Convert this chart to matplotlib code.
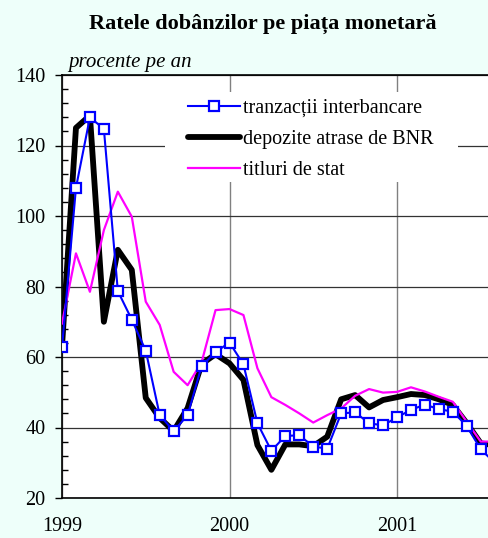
import numpy as np
import matplotlib.pyplot as plt
from matplotlib.patches import Rectangle
from matplotlib.ticker import MultipleLocator

# monthly series, Jan 1999 onwards
start_year = 1999
interbancare = [62.7, 108, 128, 124.7, 78.7, 70.6, 61.8, 43.5, 39, 43.5, 57.4, 61.4,
                64.1, 57.9, 41.2, 33.4, 37.6, 37.8, 34.6, 34.0, 44.0, 44.3, 41.2, 40.6,
                42.9, 45.0, 46.5, 45.2, 44.5, 40.4, 33.8, 30.0]
depozite_bnr = [63, 125, 128.5, 70, 90.4, 84.7, 48.4, 42.7, 39, 45.5, 58, 60.8,
                58.2, 53.5, 35, 28, 35.2, 35.2, 34.7, 37.4, 48, 49.2, 45.7, 47.8,
                48.6, 49.5, 49.2, 48, 46.4, 41.2, 35.5, 35]
titluri_stat = [69.5, 89.4, 78.5, 96, 106.9, 99.8, 75.7, 69.1, 55.8, 52, 58.5, 73.3,
                73.6, 71.9, 56.8, 48.6, 46.4, 44, 41.4, 43.5, 45.4, 49, 50.9, 49.9,
                50.1, 51.4, 50.2, 48.7, 47.3, 41.6, 36, 36]
labels = ['tranzacții interbancare', 'depozite atrase de BNR', 'titluri de stat']
year_ticks = [1999, 2000, 2001]

x = start_year + np.arange(len(interbancare)) / 12.0

plt.rcParams['font.family'] = ['Liberation Serif', 'DejaVu Serif']

W, H = 488, 538
fig = plt.figure(figsize=(W / 100, H / 100), dpi=100)
fig.patch.set_facecolor('#eefffa')
ax = fig.add_axes([62 / W, 1 - 498 / H, 462 / W, 423 / H])
ax.set_facecolor('white')
ax.set_axisbelow(True)

h_black, = ax.plot(x, depozite_bnr, color='black', lw=4.2, zorder=2,
                   solid_joinstyle='round', solid_capstyle='round')
h_mag, = ax.plot(x, titluri_stat, color='#ff00ff', lw=1.6, zorder=3)
h_blue, = ax.plot(x, interbancare, color='#0000ff', lw=1.5, marker='s', ms=6.5,
                  mfc='white', mec='#0000ff', mew=1.6, zorder=4)

ax.set_xlim(1999, 1999 + 462 / 167.5)
ax.set_ylim(20, 140)
ax.set_xticks(year_ticks)
ax.set_xticklabels([str(y) for y in year_ticks], fontsize=14.5)
ax.tick_params(axis='x', length=0, pad=14)
ax.set_yticks(np.arange(20, 141, 20))
ax.yaxis.set_minor_locator(MultipleLocator(4))
ax.tick_params(axis='y', which='major', direction='out', length=5, width=1,
               labelsize=14.5, pad=7)
ax.tick_params(axis='y', which='minor', direction='in', length=4, width=1)
ax.grid(axis='y', which='major', color='#333333', lw=0.9)
ax.grid(axis='x', which='major', color='#808080', lw=1.0)
for s in ['left', 'bottom', 'top']:
    ax.spines[s].set_linewidth(1.2)
ax.spines['right'].set_visible(False)

# white area behind the legend
ax.add_patch(Rectangle((165 / W, 1 - 182 / H), 293 / W, 90 / H,
                       transform=fig.transFigure, facecolor='white',
                       edgecolor='none', zorder=1))
ax.legend([h_blue, h_black, h_mag], labels, loc='upper left',
          bbox_to_anchor=(188 / W, 1 - 99 / H), bbox_transform=fig.transFigure,
          frameon=False, fontsize=14.5, handlelength=2.6, handletextpad=0.15,
          labelspacing=0.58, borderpad=0, borderaxespad=0)

fig.text(262.5 / W, 1 - 24 / H, 'Ratele dobânzilor pe piața monetară',
         ha='center', va='center', fontsize=16, fontweight='bold')
fig.text(68 / W, 1 - 62 / H, 'procente pe an', ha='left', va='center',
         fontsize=15, style='italic')

fig.savefig('out.png', dpi=100, facecolor=fig.get_facecolor())
